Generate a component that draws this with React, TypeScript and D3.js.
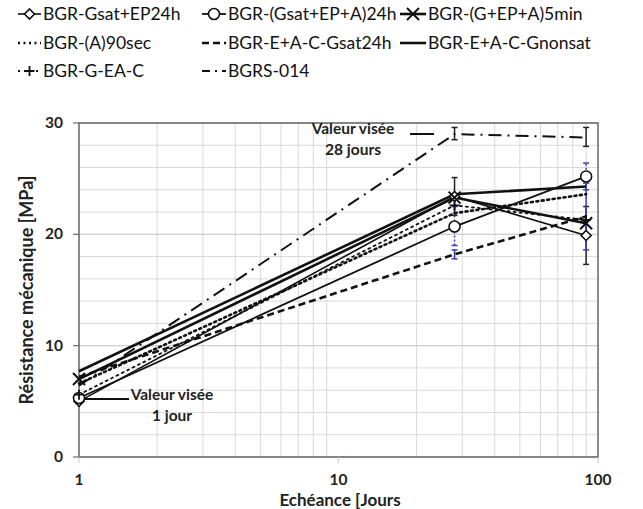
import React from "react";
import * as d3 from "d3";

const days = [1, 28, 90];
const gsatEp24h = [5.0, 23.4, 19.9];
const gsatEpA24h = [5.3, 20.7, 25.2];
const gEpA5min = [7.0, 23.3, 21.0];
const a90sec = [6.6, 21.9, 23.6];
const eacGsat24h = [7.2, 18.2, 21.6];
const eacGnonsat = [7.7, 23.6, 24.3];
const gEaC = [5.6, 22.6, 21.3];
const bgrs014 = [6.4, 29.0, 28.7];

// error bars [lo, hi] per point
const errGsatEp24h = [null, [21.7, 25.1], [17.3, 22.5]];
const errGsatEpA24h = [null, [19.0, 22.5], [24.0, 26.4]];
const errEacGsat24h = [null, [17.8, 18.6], [18.6, 24.6]];
const errBgrs014 = [null, [28.5, 29.6], [27.9, 29.6]];

const names = [
  "BGR-Gsat+EP24h",
  "BGR-(Gsat+EP+A)24h",
  "BGR-(G+EP+A)5min",
  "BGR-(A)90sec",
  "BGR-E+A-C-Gsat24h",
  "BGR-E+A-C-Gnonsat",
  "BGR-G-EA-C",
  "BGRS-014",
];
const yTicks = [0, 10, 20, 30];
const xTicks = [1, 10, 100];

type S = {
  name: string; values: number[]; dash: string; width: number;
  marker: string; err: (number[] | null)[] | null; errColor: string; errDash: string;
};

const series: S[] = [
  { name: names[0], values: gsatEp24h, dash: "", width: 1.6, marker: "diamond", err: errGsatEp24h, errColor: "#222", errDash: "" },
  { name: names[1], values: gsatEpA24h, dash: "", width: 1.8, marker: "circle", err: errGsatEpA24h, errColor: "#3b3bb0", errDash: "2,2" },
  { name: names[2], values: gEpA5min, dash: "", width: 2.6, marker: "x", err: null, errColor: "#222", errDash: "" },
  { name: names[3], values: a90sec, dash: "2,3.5", width: 2.6, marker: "none", err: null, errColor: "#222", errDash: "" },
  { name: names[4], values: eacGsat24h, dash: "7,4", width: 2.6, marker: "none", err: errEacGsat24h, errColor: "#3b3bb0", errDash: "" },
  { name: names[5], values: eacGnonsat, dash: "", width: 2.6, marker: "none", err: null, errColor: "#222", errDash: "" },
  { name: names[6], values: gEaC, dash: "2,4", width: 1.8, marker: "plus", err: null, errColor: "#222", errDash: "" },
  { name: names[7], values: bgrs014, dash: "13,6,2,6", width: 2, marker: "none", err: errBgrs014, errColor: "#222", errDash: "" },
];

const L = 79, R = 598, T = 123, B = 457;
const x = d3.scaleLog().domain([1, 100]).range([L, R]);
const y = d3.scaleLinear().domain([0, 30]).range([B, T]);

const font = "Lato, 'Open Sans', sans-serif";

function Marker({ kind, cx, cy }: { kind: string; cx: number; cy: number }) {
  const st = { fill: "white", stroke: "#111", strokeWidth: 1.6 };
  if (kind === "circle") return <circle cx={cx} cy={cy} r={5.5} {...st} />;
  if (kind === "diamond")
    return <path d={`M${cx},${cy - 5}L${cx + 5},${cy}L${cx},${cy + 5}L${cx - 5},${cy}Z`} {...st} />;
  if (kind === "x")
    return <path d={`M${cx - 6},${cy - 6}L${cx + 6},${cy + 6}M${cx - 6},${cy + 6}L${cx + 6},${cy - 6}`} stroke="#111" strokeWidth={2} />;
  if (kind === "plus")
    return <path d={`M${cx - 5},${cy}L${cx + 5},${cy}M${cx},${cy - 5}L${cx},${cy + 5}`} stroke="#111" strokeWidth={1.8} />;
  return null;
}

export default function App() {
  const line = d3.line<number>().x((_, i) => x(days[i])).y((v) => y(v));
  const minorX: number[] = [];
  for (const dec of [1, 10]) for (let k = 2; k <= 9; k++) minorX.push(dec * k);
  const minorY = d3.range(0, 31, 2);

  const legendCols = [18, 202, 400];
  const legendTextX = [43, 228, 428];
  const legendRows = [14, 43, 71];

  return (
    <svg width={643} height={509} style={{ position: "absolute", left: 0, top: 0, background: "white" }} fontFamily={font}>
      <rect width={643} height={509} fill="white" />
      {/* grid */}
      {minorY.map((v) => (
        <line key={"gy" + v} x1={L} x2={R} y1={y(v)} y2={y(v)} stroke="#d9d9d9" strokeWidth={1} />
      ))}
      {minorX.map((v) => (
        <line key={"gx" + v} x1={x(v)} x2={x(v)} y1={T} y2={B} stroke="#d9d9d9" strokeWidth={1} />
      ))}
      {yTicks.map((v) => (
        <line key={"my" + v} x1={L} x2={R} y1={y(v)} y2={y(v)} stroke="#cfcfcf" strokeWidth={1.2} />
      ))}
      {/* frame */}
      <rect x={L} y={T} width={R - L} height={B - T} fill="none" stroke="#6e6e6e" strokeWidth={1.6} />
      {yTicks.map((v) => (
        <line key={"ty" + v} x1={L - 6} x2={L} y1={y(v)} y2={y(v)} stroke="#6e6e6e" strokeWidth={1.2} />
      ))}
      {xTicks.map((v) => (
        <line key={"tx" + v} x1={x(v)} x2={x(v)} y1={B} y2={B + 6} stroke="#c8d0e0" strokeWidth={1.2} />
      ))}
      {yTicks.map((v) => (
        <text key={"ly" + v} x={L - 16} y={y(v) + 5} textAnchor="end" fontSize={15.5} fontWeight="bold" fill="#222">{v}</text>
      ))}
      {xTicks.map((v) => (
        <text key={"lx" + v} x={x(v)} y={485} textAnchor="middle" fontSize={15.5} fontWeight="bold" fill="#222">{v}</text>
      ))}
      <text x={340} y={506} textAnchor="middle" fontSize={17} fontWeight="bold" fill="#222">Echéance [Jours</text>
      <text transform={`translate(33,${(T + B) / 2}) rotate(-90)`} textAnchor="middle" fontSize={18} fontWeight="bold" fill="#222">Résistance mécanique [MPa]</text>

      {/* error bars */}
      {series.map((s, si) =>
        s.err ? s.err.map((e, i) =>
          e ? (
            <g key={"e" + si + i} stroke={s.errColor} strokeWidth={1.5}>
              <line x1={x(days[i])} x2={x(days[i])} y1={y(e[0])} y2={y(e[1])} strokeDasharray={s.errDash} />
              <line x1={x(days[i]) - 3} x2={x(days[i]) + 3} y1={y(e[0])} y2={y(e[0])} />
              <line x1={x(days[i]) - 3} x2={x(days[i]) + 3} y1={y(e[1])} y2={y(e[1])} />
            </g>
          ) : null
        ) : null
      )}

      {/* lines */}
      {series.map((s, si) => (
        <path key={"l" + si} d={line(s.values) || ""} fill="none" stroke="#111" strokeWidth={s.width} strokeDasharray={s.dash} strokeLinecap={s.dash.startsWith("2,") ? "round" : "butt"} />
      ))}
      {series.map((s, si) =>
        s.values.map((v, i) => <Marker key={"m" + si + i} kind={s.marker} cx={x(days[i])} cy={y(v)} />)
      )}

      {/* annotations */}
      <line x1={410} x2={434} y1={134} y2={134} stroke="#111" strokeWidth={2} />
      <text x={353} y={134} textAnchor="middle" fontSize={15.5} fontWeight="bold" fill="#222">Valeur visée</text>
      <text x={353} y={155} textAnchor="middle" fontSize={15.5} fontWeight="bold" fill="#222">28 jours</text>
      <line x1={84} x2={129} y1={399} y2={399} stroke="#111" strokeWidth={2} />
      <text x={172} y={400} textAnchor="middle" fontSize={15.5} fontWeight="bold" fill="#222">Valeur visée</text>
      <text x={172} y={421} textAnchor="middle" fontSize={15.5} fontWeight="bold" fill="#222">1 jour</text>

      {/* legend */}
      {series.map((s, si) => {
        const col = si % 3;
        const row = Math.floor(si / 3);
        const x0 = legendCols[col];
        const x1 = legendTextX[col] - 2;
        const cy = legendRows[row];
        return (
          <g key={"lg" + si}>
            <line x1={x0} x2={x1} y1={cy} y2={cy} stroke="#111" strokeWidth={s.width} strokeDasharray={s.dash === "13,6,2,6" ? "8,5,2,5" : s.dash} />
            <Marker kind={s.marker} cx={(x0 + x1) / 2} cy={cy} />
            <text x={legendTextX[col]} y={cy + 6} fontSize={17.5} fill="#111">{s.name}</text>
          </g>
        );
      })}
    </svg>
  );
}
